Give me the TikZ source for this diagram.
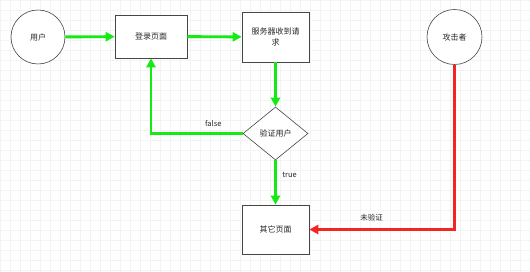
\documentclass[tikz,border=0pt]{standalone}
\usepackage{fontspec}
\setmainfont{Noto Sans CJK SC}
\usetikzlibrary{shapes.geometric,arrows.meta}
\definecolor{gline}{RGB}{20,235,20}
\definecolor{rline}{RGB}{245,35,35}
\definecolor{gridc}{RGB}{243,243,243}
\definecolor{edgec}{RGB}{70,70,70}
\tikzset{
  every node/.style={font=\fontsize{8}{11}\selectfont, text=black!85},
  circ/.style={circle, draw=edgec, fill=white, line width=0.6pt, minimum size=54pt, inner sep=0pt},
  box/.style={rectangle, draw=edgec, fill=white, line width=0.6pt, inner sep=0pt, align=center},
  dia/.style={diamond, draw=edgec, fill=white, line width=0.6pt, inner sep=0pt, minimum width=65pt, minimum height=53pt, aspect=1.23},
  garrow/.style={draw=gline, line width=2.9pt, -{Triangle[length=9pt,width=9pt]}},
  rarrow/.style={draw=rline, line width=2.9pt, -{Triangle[length=9pt,width=9pt]}},
  lbl/.style={font=\fontsize{7.5}{9}\selectfont}
}
\begin{document}
\begin{tikzpicture}[x=1pt,y=-1pt]
\useasboundingbox (0,0) rectangle (530,272);
\fill[white] (0,0) rectangle (530,272);
\draw[gridc, line width=0.4pt, step=10pt] (0,0) grid (530,272);

\node[circ] (user) at (38,37) {用户};
\node[box, minimum width=72pt, minimum height=43pt] (login) at (151,36.5) {登录页面};
\node[box, minimum width=67pt, minimum height=50pt] (server) at (275.5,37) {服务器收到请\\求};
\node[dia] (check) at (275.5,133.5) {验证用户};
\node[box, minimum width=67pt, minimum height=49pt] (other) at (275.5,229.5) {其它页面};
\node[circ, minimum size=55pt] (attacker) at (454.5,37) {攻击者};

\draw[garrow] (user) -- (login);
\draw[garrow] (login) -- (server);
\draw[garrow] (server) -- (check);
\draw[garrow] (check.west) -| (login.south) node[pos=0.16, above=2pt, lbl] {false};
\draw[garrow] (check) -- (other) node[pos=0.33, right=2pt, lbl] {true};
\coordinate (corner) at (attacker.south |- other.east);
\draw[rarrow] (attacker.south) -- (corner) -- (other.east) node[pos=0.57, above=4pt, lbl] {未验证};
\end{tikzpicture}
\end{document}
